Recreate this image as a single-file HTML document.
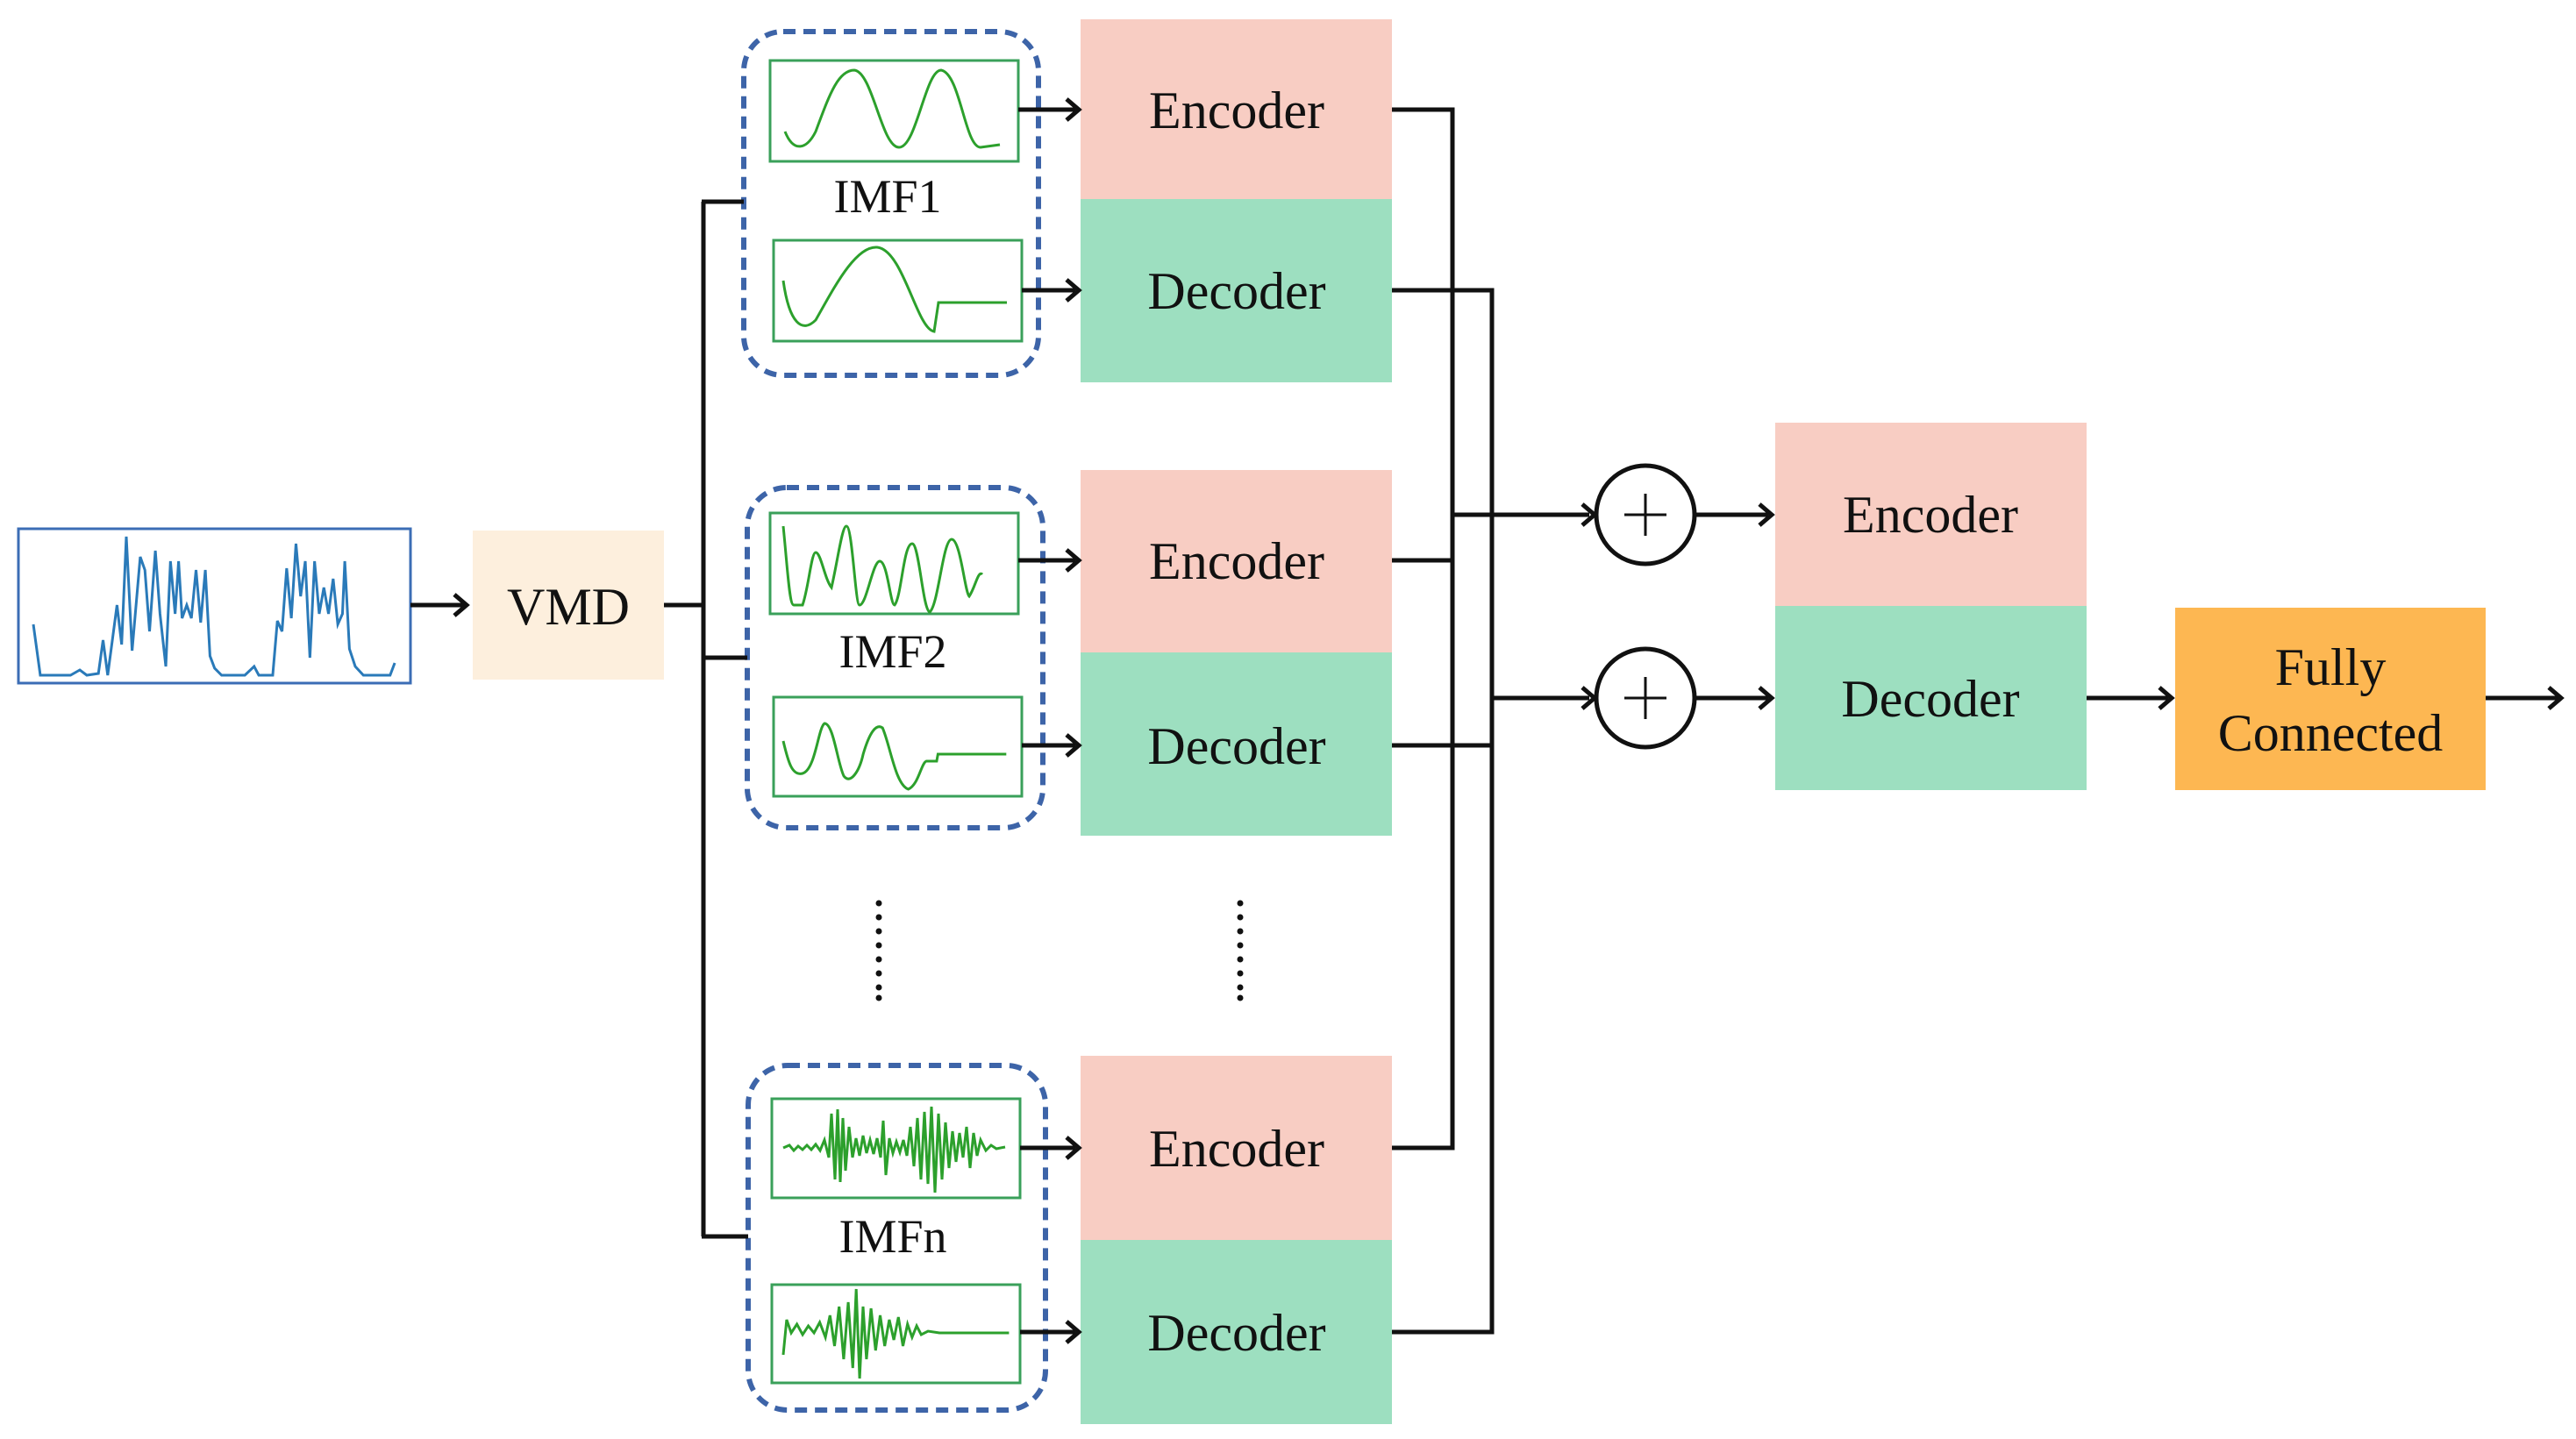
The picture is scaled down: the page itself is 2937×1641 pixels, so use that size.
<!DOCTYPE html>
<html><head><meta charset="utf-8"><style>
html,body{margin:0;padding:0;background:#fff}
svg{display:block}
text{font-family:"Liberation Serif",serif;fill:#111}
</style></head><body>
<svg width="2937" height="1641" viewBox="0 0 2937 1641" xmlns="http://www.w3.org/2000/svg">

<!-- input signal -->
<rect x="21" y="603" width="447" height="176" fill="#fff" stroke="#3b6db5" stroke-width="3"/>
<g transform="translate(38,0) scale(1.325,1) translate(-38,0)">
<polyline fill="none" stroke="#2a7ab9" stroke-width="3" vector-effect="non-scaling-stroke" points="38,712 44,770 70,770 78,764 84,770 94,768 98,730 102,770 110,690 114,735 118,612 123,742 130,635 134,650 138,720 143,628 147,700 152,760 156,640 160,700 163,640 166,705 170,690 174,705 178,650 182,710 186,650 190,748 194,762 200,770 220,770 228,760 232,770 244,770 248,708 252,720 256,648 260,705 264,620 268,680 272,640 276,750 280,640 284,700 288,670 292,700 296,660 300,712 304,700 306,640 310,740 315,760 322,770 345,770 349,756"/>
</g>

<!-- VMD -->
<rect x="539" y="605" width="218" height="170" fill="#fdefdd"/>
<text x="648" y="712" font-size="60" text-anchor="middle">VMD</text>

<!-- Encoders/Decoders column -->
<rect x="1232" y="22" width="355" height="205" fill="#f8cdc3"/>
<rect x="1232" y="227" width="355" height="209" fill="#9ddfc0"/>
<rect x="1232" y="536" width="355" height="208" fill="#f8cdc3"/>
<rect x="1232" y="744" width="355" height="209" fill="#9ddfc0"/>
<rect x="1232" y="1204" width="355" height="210" fill="#f8cdc3"/>
<rect x="1232" y="1414" width="355" height="210" fill="#9ddfc0"/>
<g font-size="60" text-anchor="middle">
<text x="1410" y="146">Encoder</text>
<text x="1410" y="352">Decoder</text>
<text x="1410" y="660">Encoder</text>
<text x="1410" y="871">Decoder</text>
<text x="1410" y="1330">Encoder</text>
<text x="1410" y="1540">Decoder</text>
</g>

<!-- right blocks -->
<rect x="2024" y="482" width="355" height="209" fill="#f8cdc3"/>
<rect x="2024" y="691" width="355" height="210" fill="#9ddfc0"/>
<rect x="2480" y="693" width="354" height="208" fill="#fdb752"/>
<g font-size="60" text-anchor="middle">
<text x="2201" y="607">Encoder</text>
<text x="2201" y="817">Decoder</text>
<text x="2657" y="781">Fully</text>
<text x="2657" y="856">Connected</text>
</g>

<!-- dashed groups -->
<g fill="none" stroke="#3d64a8" stroke-width="6" stroke-dasharray="14,9">
<rect x="848" y="36" width="336" height="392" rx="45"/>
<rect x="852" y="556" width="337" height="388" rx="45"/>
<rect x="853" y="1215" width="339" height="393" rx="45"/>
</g>

<!-- plot frames -->
<g fill="#fff" stroke="#3aa05a" stroke-width="3">
<rect x="878" y="69" width="283" height="115"/>
<rect x="882" y="274" width="283" height="115"/>
<rect x="878" y="585" width="283" height="115"/>
<rect x="882" y="795" width="283" height="113"/>
<rect x="880" y="1253" width="283" height="113"/>
<rect x="880" y="1465" width="283" height="112"/>
</g>
<g font-size="54" text-anchor="middle">
<text x="1012" y="242">IMF1</text>
<text x="1018" y="761">IMF2</text>
<text x="1018" y="1428">IMFn</text>
</g>

<!-- waves -->
<g fill="none" stroke="#2ca02c" stroke-width="3">
<path d="M895,150 C905,175 920,170 930,150 C945,110 955,80 974,80 C995,82 1005,168 1025,168 C1045,168 1055,80 1073,80 C1095,84 1100,168 1118,168 L1140,165"/>
<path d="M893,320 C900,370 915,380 930,365 C950,330 975,280 1000,282 C1030,285 1045,375 1065,378 L1070,345 L1148,345"/>
<path d="M893,600 C898,650 900,690 905,690 L915,690 C922,670 925,630 930,630 C936,630 940,660 948,670 C955,640 960,600 965,600 C972,600 975,690 980,690 C988,690 995,640 1003,640 C1012,640 1015,690 1020,690 C1028,680 1030,620 1040,620 C1048,620 1052,695 1060,698 C1070,690 1075,615 1085,615 C1095,615 1100,675 1105,680 C1112,670 1115,650 1120,655"/>
<g transform="translate(893,0) scale(1.47,1) translate(-893,0)">
<path vector-effect="non-scaling-stroke" d="M893,845 C897,870 900,885 908,882 C918,878 920,830 925,825 C932,825 935,870 940,885 C945,895 952,880 955,860 C960,835 965,825 970,830 C976,850 980,895 990,900 C998,895 1000,870 1004,868 L1012,868 L1013,860 L1066,860"/>
</g>
<polyline points="893,1309 900,1306 905,1312 910,1307 915,1311 920,1306 925,1311 930,1305 935,1312 940,1300 945,1320 948,1270 952,1345 955,1265 958,1348 961,1275 964,1335 968,1285 972,1320 976,1298 980,1318 984,1295 988,1315 992,1300 996,1316 1000,1298 1004,1320 1007,1278 1010,1340 1014,1298 1018,1315 1022,1302 1026,1314 1030,1300 1034,1318 1038,1285 1042,1330 1046,1275 1050,1345 1054,1268 1058,1350 1062,1262 1066,1360 1070,1270 1074,1345 1078,1280 1082,1332 1086,1290 1090,1325 1094,1292 1098,1320 1102,1285 1106,1332 1110,1292 1114,1318 1118,1300 1124,1312 1130,1306 1136,1310 1146,1308"/>
<g transform="translate(893,0) scale(1.3,1) translate(-893,0)">
<polyline vector-effect="non-scaling-stroke" points="893,1545 896,1505 900,1520 905,1510 910,1522 915,1512 920,1520 925,1508 930,1525 934,1500 938,1535 942,1490 946,1550 950,1485 954,1560 957,1470 960,1572 963,1490 966,1550 970,1492 974,1540 978,1500 982,1535 986,1505 990,1528 994,1502 998,1535 1002,1510 1006,1525 1010,1512 1014,1522 1020,1518 1030,1520 1091,1520"/>
</g>
</g>

<!-- connectors -->
<g stroke="#111" stroke-width="5" fill="none">
<line x1="468" y1="690" x2="530" y2="690"/>
<line x1="757" y1="690" x2="802" y2="690"/>
<line x1="802" y1="230" x2="802" y2="1410"/>
<line x1="800" y1="230" x2="848" y2="230"/>
<line x1="800" y1="750" x2="852" y2="750"/>
<line x1="800" y1="1410" x2="853" y2="1410"/>
<line x1="1161" y1="125" x2="1226" y2="125"/>
<line x1="1165" y1="331" x2="1226" y2="331"/>
<line x1="1161" y1="639" x2="1226" y2="639"/>
<line x1="1165" y1="850" x2="1226" y2="850"/>
<line x1="1163" y1="1309" x2="1226" y2="1309"/>
<line x1="1163" y1="1519" x2="1226" y2="1519"/>
<polyline points="1587,125 1656,125 1656,1309 1587,1309"/>
<line x1="1587" y1="639" x2="1656" y2="639"/>
<polyline points="1587,331 1701,331 1701,1519 1587,1519"/>
<line x1="1587" y1="850" x2="1701" y2="850"/>
<line x1="1656" y1="587" x2="1812" y2="587"/>
<line x1="1701" y1="796" x2="1812" y2="796"/>
<line x1="1933" y1="587" x2="2016" y2="587"/>
<line x1="1933" y1="796" x2="2016" y2="796"/>
<line x1="2379" y1="796" x2="2472" y2="796"/>
<line x1="2834" y1="796" x2="2918" y2="796"/>
<circle cx="1876" cy="587" r="56"/>
<circle cx="1876" cy="796" r="56"/>
<line x1="1852" y1="587" x2="1900" y2="587" stroke-width="3"/>
<line x1="1876" y1="563" x2="1876" y2="611" stroke-width="3"/>
<line x1="1852" y1="796" x2="1900" y2="796" stroke-width="3"/>
<line x1="1876" y1="772" x2="1876" y2="820" stroke-width="3"/>
</g>
<!-- arrowheads -->
<g stroke="#111" stroke-width="5" fill="none" stroke-linejoin="miter">
<polyline points="518,678 532,690 518,702"/>
<polyline points="1216,113 1230,125 1216,137"/>
<polyline points="1216,319 1230,331 1216,343"/>
<polyline points="1216,627 1230,639 1216,651"/>
<polyline points="1216,838 1230,850 1216,862"/>
<polyline points="1216,1297 1230,1309 1216,1321"/>
<polyline points="1216,1507 1230,1519 1216,1531"/>
<polyline points="1804,575 1818,587 1804,599"/>
<polyline points="1804,784 1818,796 1804,808"/>
<polyline points="2006,575 2020,587 2006,599"/>
<polyline points="2006,784 2020,796 2006,808"/>
<polyline points="2462,784 2476,796 2462,808"/>
<polyline points="2906,784 2920,796 2906,808"/>
</g>
<!-- dots -->
<g fill="#111">
<circle cx="1002" cy="1030" r="3.5"/><circle cx="1002" cy="1046" r="3.5"/><circle cx="1002" cy="1062" r="3.5"/><circle cx="1002" cy="1078" r="3.5"/><circle cx="1002" cy="1094" r="3.5"/><circle cx="1002" cy="1110" r="3.5"/><circle cx="1002" cy="1126" r="3.5"/><circle cx="1002" cy="1138" r="3.5"/>
<circle cx="1414" cy="1030" r="3.5"/><circle cx="1414" cy="1046" r="3.5"/><circle cx="1414" cy="1062" r="3.5"/><circle cx="1414" cy="1078" r="3.5"/><circle cx="1414" cy="1094" r="3.5"/><circle cx="1414" cy="1110" r="3.5"/><circle cx="1414" cy="1126" r="3.5"/><circle cx="1414" cy="1138" r="3.5"/>
</g>
</svg>
</body></html>
